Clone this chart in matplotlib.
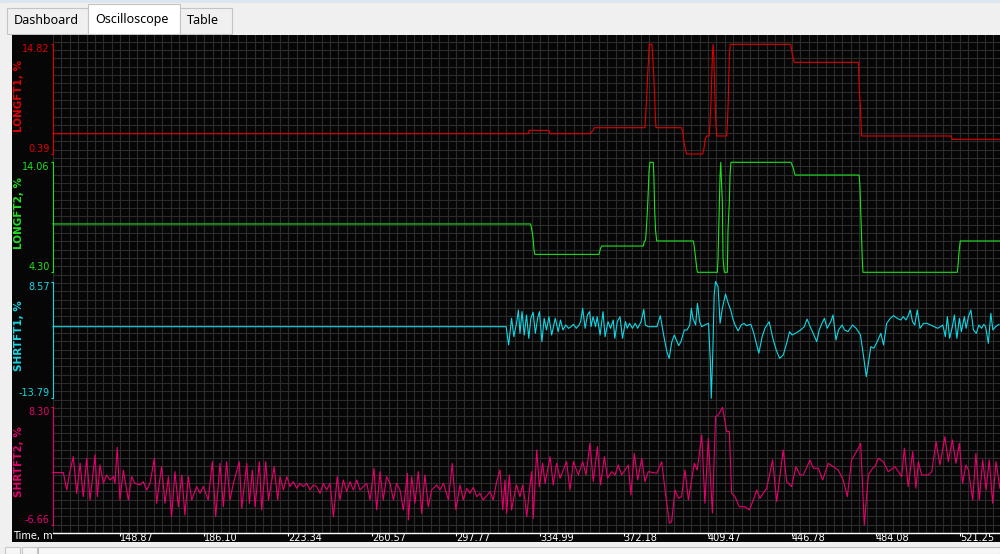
import numpy as np
import matplotlib
matplotlib.use('Agg')
import matplotlib.pyplot as plt
from matplotlib.patches import Rectangle

# ---- data (time in minutes) ----
red_t = [120.7, 330.7, 331.1, 339.8, 340.3, 358.2, 358.8, 359.4, 359.9, 382.2, 382.5, 383.0, 383.4, 383.9,
         384.1, 385.3, 385.6, 386.1, 386.5, 386.8, 387.1, 398.4, 398.9, 399.5, 400.6, 407.7, 408.3, 408.9,
         409.5, 410.6, 410.9, 411.4, 412.0, 412.3, 412.6, 413.2, 413.6, 413.9, 418.3, 418.6, 419.0, 419.5,
         419.9, 446.6, 447.0, 447.5, 448.2, 476.5, 476.9, 477.4, 477.9, 517.4, 518.0, 539.0]
red_v = [3.06, 3.06, 3.50, 3.50, 3.06, 3.06, 3.33, 3.55, 3.85, 3.85, 5.30, 7.93, 10.78, 13.41,
         14.82, 14.82, 13.41, 10.78, 7.93, 5.30, 3.85, 3.85, 3.33, 1.79, 0.39, 0.39, 1.13, 2.45,
         2.76, 2.76, 4.20, 7.27, 13.41, 14.82, 13.41, 7.27, 4.20, 2.76, 2.76, 4.20, 7.27, 13.41,
         14.82, 14.82, 14.07, 13.19, 12.45, 12.45, 8.81, 6.40, 2.76, 2.76, 2.32, 2.32]

green_t = [120.7, 331.7, 332.2, 332.6, 332.9, 333.2, 333.6, 361.9, 362.4, 362.6, 363.1, 381.5, 381.9,
           382.5, 382.8, 383.3, 383.7, 384.0, 384.4, 385.9, 386.2, 386.5, 386.9, 387.4, 403.6, 404.0,
           404.6, 405.1, 405.4, 414.2, 414.5, 414.8, 415.1, 415.4, 415.7, 415.9, 416.4, 416.7, 417.3,
           418.6, 418.9, 419.5, 419.8, 420.2, 446.7, 447.2, 447.8, 448.2, 448.6, 476.8, 477.2, 477.5,
           477.9, 478.2, 478.5, 520.2, 520.6, 520.9, 521.2, 521.5, 539.0]
green_v = [8.59, 8.59, 8.11, 7.61, 7.11, 6.28, 5.89, 5.89, 6.28, 6.43, 6.63, 6.63, 7.02,
           7.17, 8.05, 9.83, 11.60, 13.23, 14.06, 14.06, 12.49, 9.83, 8.05, 7.08, 7.08, 6.57,
           5.54, 4.65, 4.30, 4.30, 5.54, 8.05, 10.57, 12.93, 14.06, 12.93, 10.57, 5.54, 4.30,
           4.30, 8.05, 10.57, 12.93, 14.06, 14.06, 13.82, 13.52, 13.14, 12.93, 12.93, 11.90, 9.83,
           7.46, 5.54, 4.30, 4.30, 5.10, 5.98, 6.57, 7.08, 7.08]

cyan_pts = [(120.7, -0.08), (320.9, -0.08), (322.0, -3.58), (323.3, 1.52), (324.3, -1.99), (325.6, 0.88),
            (326.3, 3.11), (327.0, -1.35), (327.9, 2.80), (328.9, -1.67), (329.9, 2.16), (330.9, -2.31),
            (331.8, 1.52), (332.8, 2.67), (333.8, -1.35), (334.8, 1.52), (335.6, 2.80), (336.7, -2.95),
            (337.7, 1.52), (338.7, -0.71), (339.8, 1.84), (341.0, -1.67), (342.6, 1.52), (343.9, -1.03),
            (344.9, 1.20), (346.0, -0.71), (347.2, 0.24), (348.5, -0.39), (349.6, -0.08), (350.6, 0.37),
            (351.9, -0.39), (353.1, 0.24), (353.8, 0.88), (354.7, 3.43), (355.8, -0.39), (356.8, 2.16),
            (357.8, 2.80), (358.4, -0.08), (359.3, 1.84), (360.4, -0.08), (361.1, 1.84), (362.4, -1.67),
            (363.7, 2.80), (364.6, -1.99), (365.9, 0.88), (367.0, -0.39), (368.2, 1.20), (368.9, -2.31),
            (370.0, 0.88), (371.2, 1.84), (372.3, -2.31), (373.6, 0.88), (374.4, -0.39), (375.4, 0.56),
            (376.7, -0.39), (377.9, 0.56), (379.0, -0.39), (380.5, 0.88), (381.7, 3.24), (382.4, 0.24),
            (383.7, -0.08), (387.5, -0.08), (389.0, 2.03), (390.6, -1.99), (391.9, -4.86), (392.9, -6.14),
            (394.1, -2.95), (395.2, -1.67), (396.1, -2.63), (397.1, -3.71), (398.1, -2.95), (399.6, -0.71),
            (400.8, -0.71), (402.0, 0.24), (402.7, 3.43), (403.4, 1.52), (404.6, 0.24), (405.4, 4.39),
            (406.4, 0.88), (407.3, -0.08), (409.2, 0.37), (410.3, 0.56), (411.1, -6.77), (411.5, -13.79),
            (412.2, -4.86), (412.8, 5.99), (413.4, 8.57), (414.5, 7.58), (415.4, 0.56), (416.4, 3.43),
            (417.8, 6.18), (419.0, 4.39), (420.1, 3.11), (421.0, 1.52), (422.0, 0.24), (423.4, -0.90),
            (424.7, 0.24), (426.0, 0.56), (427.0, 0.12), (429.0, 0.37), (430.3, -1.35), (431.6, -3.58),
            (432.5, -5.18), (434.0, -1.99), (435.2, -0.39), (437.1, 0.88), (438.7, -2.31), (440.2, -4.54),
            (441.7, -6.14), (443.3, -5.50), (444.8, -3.27), (446.1, -1.03), (447.2, -1.67), (448.7, -1.35),
            (451.0, -0.71), (452.6, -0.08), (453.8, 1.39), (454.9, 0.24), (456.5, -1.35), (458.1, -2.95),
            (459.2, -0.71), (460.4, 0.56), (461.5, 1.52), (462.7, -0.39), (464.3, 0.88), (465.3, 2.16),
            (466.6, -2.63), (467.7, -0.71), (469.3, 0.24), (470.4, -0.71), (471.9, -1.03), (473.9, 0.24),
            (475.5, -0.39), (477.4, -1.67), (478.9, -6.14), (480.0, -9.65), (480.8, -7.41), (482.0, -3.90),
            (483.3, -4.22), (484.8, -2.95), (486.4, -1.35), (487.6, -3.58), (489.0, 0.56), (490.6, 1.52),
            (492.1, 2.03), (493.6, 1.52), (495.2, 1.20), (496.3, 1.84), (497.5, 1.20), (498.3, 1.84),
            (499.4, 3.11), (500.4, 0.88), (501.4, 0.24), (502.5, 3.11), (503.7, -0.39), (505.3, 0.56),
            (506.8, 0.56), (508.4, 0.24), (509.9, -0.08), (511.5, -0.39), (512.7, -0.08), (513.8, 0.24),
            (514.9, -1.99), (515.8, 1.84), (516.8, -2.31), (518.0, -0.08), (518.9, 2.16), (520.0, -2.31),
            (521.1, 1.52), (522.0, -1.03), (523.3, 1.84), (524.1, -0.39), (525.1, 1.84), (526.2, 3.11),
            (527.3, -0.71), (528.6, -1.35), (529.7, 0.24), (530.9, -0.39), (531.9, 0.37), (532.7, -0.08),
            (533.9, -3.27), (535.0, 2.48), (535.9, -0.71), (537.1, -0.08), (538.6, 0.37)]

pink_pts = [(120.7, 0.00), (125.3, 0.00), (126.8, -2.21), (127.9, -0.30), (129.7, 2.03), (131.2, -2.63),
            (132.7, 1.18), (134.1, -3.06), (135.6, 1.82), (137.1, -3.48), (139.3, 2.24), (140.3, -3.06),
            (141.5, 0.97), (143.0, -1.36), (144.4, -0.30), (145.9, -0.94), (147.4, -0.51), (148.1, -1.36),
            (149.1, 3.22), (150.3, -3.48), (151.8, 0.33), (154.0, -3.48), (155.5, -0.51), (156.9, -1.36),
            (159.2, -1.57), (160.6, -1.15), (162.1, -2.21), (163.6, -1.36), (165.5, 1.82), (166.5, -3.90),
            (168.7, 0.76), (170.2, -3.90), (171.7, -0.51), (173.1, -5.60), (174.6, 0.12), (176.1, -4.33),
            (177.6, -0.30), (179.0, -5.39), (180.5, -0.51), (182.0, -3.48), (184.2, -1.78), (185.7, -2.63),
            (187.1, -1.78), (189.3, -3.48), (191.1, 1.39), (192.6, -5.60), (194.5, 1.18), (196.0, -4.33),
            (197.4, 1.39), (198.9, -3.48), (200.4, -1.36), (203.0, 1.39), (204.1, -4.54), (206.3, 1.18),
            (207.5, -3.90), (208.8, 0.33), (210.0, -4.33), (211.9, 1.39), (212.9, -4.75), (214.7, 1.39),
            (215.9, -3.48), (218.4, 0.76), (220.0, -3.48), (221.0, -0.51), (222.5, -2.21), (224.0, -0.51),
            (225.4, -1.78), (226.9, -1.15), (228.4, -1.99), (229.8, -1.36), (231.3, -1.78), (232.8, -1.36),
            (234.3, -2.21), (235.7, -1.57), (237.2, -1.78), (238.7, -2.63), (240.1, -1.36), (241.6, -2.21),
            (243.1, -1.36), (244.6, -5.60), (246.3, -0.51), (247.5, -3.48), (249.0, -0.94), (250.5, -2.42),
            (251.9, -1.15), (253.4, -2.21), (254.9, -0.94), (256.3, -2.21), (257.8, -1.78), (259.3, -1.36),
            (260.8, -3.48), (262.5, 0.55), (263.7, -4.75), (265.2, 0.12), (266.6, -3.48), (268.1, -0.51),
            (269.6, -1.36), (271.1, -3.48), (272.5, -1.36), (274.0, -2.21), (275.5, -4.75), (277.3, -0.09),
            (277.7, -6.02), (279.2, -0.51), (280.6, -3.90), (282.1, 0.12), (283.6, -5.17), (285.0, -0.30),
            (286.5, -4.33), (288.0, -2.21), (290.2, -1.57), (291.7, -2.21), (293.2, -1.36), (295.4, -3.48),
            (297.1, 1.18), (298.7, -4.75), (300.5, -1.57), (302.0, -3.48), (303.5, -1.99), (304.9, -2.63),
            (306.4, -1.87), (307.9, -3.06), (309.3, -2.63), (310.8, -3.48), (313.8, -2.42), (315.2, -3.48),
            (316.7, -1.15), (318.2, 0.33), (319.4, -4.75), (320.4, -0.94), (321.1, -5.17), (322.3, -0.30),
            (323.3, -4.75), (324.8, -2.42), (325.5, -1.57), (327.0, -3.06), (328.2, -1.57), (329.2, -3.48),
            (330.0, -5.60), (331.1, -2.42), (332.2, 0.12), (332.9, -5.81), (334.4, 2.88), (335.6, -1.78),
            (337.0, 1.18), (338.1, -1.36), (340.3, 2.03), (341.7, -1.57), (343.2, 1.18), (344.7, -0.72),
            (347.6, 1.39), (349.1, -2.21), (350.6, 1.39), (352.8, -0.30), (354.7, 1.39), (356.2, -0.30),
            (357.9, 3.72), (359.4, -1.15), (361.2, 3.30), (362.6, -1.57), (364.3, 2.03), (365.7, -0.72),
            (367.5, 0.12), (369.0, -0.30), (370.4, 0.97), (371.9, -0.30), (374.9, 0.97), (376.0, -2.84),
            (377.5, 2.45), (379.0, -0.94), (380.8, 1.82), (382.2, -1.15), (383.7, 0.12), (387.4, -0.09),
            (389.6, 1.39), (391.1, -2.21), (393.0, -6.45), (394.0, -6.23), (395.5, -2.21), (397.0, -3.27),
            (398.4, -3.06), (399.9, 0.33), (401.4, -3.48), (404.0, 1.18), (405.3, 0.33), (407.3, 4.78),
            (408.7, -3.90), (410.2, 4.36), (412.0, -5.17), (413.4, 7.11), (414.6, 7.33), (416.5, 8.30),
            (418.3, 5.21), (419.5, 5.21), (420.5, -2.63), (422.0, -3.06), (423.9, -4.33), (426.4, -4.33),
            (428.3, -4.75), (430.1, -3.48), (431.6, -2.21), (433.0, -3.27), (436.0, -1.99), (438.6, 1.61),
            (440.4, -3.69), (443.3, 2.88), (444.8, -1.15), (447.0, -1.78), (448.9, 0.76), (450.7, -0.30),
            (452.2, -0.30), (455.1, 1.61), (456.6, 0.55), (458.8, 0.55), (460.7, -0.94), (463.2, 1.18),
            (465.4, 0.76), (467.6, 0.33), (469.8, -0.94), (471.6, -3.06), (473.5, 1.61), (476.5, 3.09),
            (477.5, 3.72), (479.1, -6.66), (480.9, -0.30), (482.8, 0.55), (483.8, 0.76), (485.3, 1.82),
            (487.5, 1.39), (489.7, 0.12), (492.7, 0.76), (495.6, -0.51), (496.8, 3.09), (498.5, -1.78),
            (500.5, 2.67), (501.9, -1.99), (503.0, 1.39), (504.4, -0.30), (507.4, -0.30), (508.9, 0.12),
            (510.8, 3.94), (512.5, 0.97), (514.7, 4.57), (516.2, 1.39), (518.0, 4.15), (519.6, 1.18),
            (521.1, 3.72), (522.5, -1.36), (524.0, 0.97), (525.1, 0.33), (527.0, -3.48), (528.4, 2.45),
            (529.9, -3.48), (531.4, 1.61), (532.9, -2.21), (534.3, 1.61), (535.8, -3.90), (537.3, 1.39),
            (539.0, -1.99)]

cyan_t, cyan_v = zip(*cyan_pts)
pink_t, pink_v = zip(*pink_pts)

channels = ['LONGFT1, %', 'LONGFT2, %', 'SHRTFT1, %', 'SHRTFT2, %']
ch_colors = ['#e00000', '#1ee01e', '#10d8e6', '#e6006e']
tick_vals = [148.87, 186.10, 223.34, 260.57, 297.77, 334.99, 372.18, 409.47, 446.78, 484.08, 521.25]
tick_text = ['148.87', '186.10', '223.34', '260.57', '297.77', '334.99', '372.18', '409.47', '446.78', '484.08', '521.25']
t_min, t_max = 120.73, 539.05
tabs = ['Dashboard', 'Oscilloscope', 'Table']

W, H = 1000.0, 554.0
def fx(px):
    return px / W
def fy(py):
    return 1 - py / H

def add_rect(x0, y0, x1, y1, **kw):
    # rectangle in pixel rows (y down), drawn behind the axes
    fig.patches.append(Rectangle((fx(x0), fy(y1)), (x1 - x0) / W, (y1 - y0) / H,
                                 transform=fig.transFigure, zorder=-10, **kw))

fig = plt.figure(figsize=(10, 5.54), dpi=100)
fig.patch.set_facecolor('#f0f0f0')

# window chrome: top band, tabs, black scope area, scrollbar
add_rect(0, 0, W, 3, fc='#dbe6f1', ec='none')
tab_box = [(7, 88, 8), (88, 180, 4), (180, 232, 8)]
for (x0, x1, top), name in zip(tab_box, tabs):
    sel = name == 'Oscilloscope'
    add_rect(x0, top, x1, 34, fc='#ffffff' if sel else '#f0f0f0', ec='#c4c4c4', lw=0.8)
    fig.text(fx(x0 + 7), fy(20), name, fontsize=9, family='Noto Sans', color='black', va='center', ha='left')

add_rect(12, 35, W, 541.5, fc='#060606', ec='none')
add_rect(5, 547, 20, 554, fc='#f7f7f7', ec='#c8c8c8', lw=0.8)
add_rect(22, 547, 37, 554, fc='#f7f7f7', ec='#c8c8c8', lw=0.8)
add_rect(38, 547, W, 554, fc='#f7f7f7', ec='#bcbcbc', lw=0.8)

# background grid + time axis
grid_step = 3.7238
ax_bg = fig.add_axes([fx(53), fy(533), (W - 53) / W, (533 - 35) / H])
ax_bg.set_facecolor('none')
ax_bg.set_xlim(t_min, t_max)
ax_bg.set_ylim(0, 498 / 8.33)
ax_bg.set_xticks(tick_vals)
ax_bg.set_xticklabels(tick_text)
ax_bg.set_xticks(np.arange(tick_vals[0] - 8 * grid_step, t_max, grid_step), minor=True)
ax_bg.set_yticks(np.arange(0, 60))
ax_bg.set_yticklabels([])
ax_bg.grid(which='both', color='#2b2b2b', lw=0.8)
ax_bg.tick_params(axis='y', length=0)
ax_bg.tick_params(axis='x', which='minor', length=0)
ax_bg.tick_params(axis='x', which='major', direction='out', length=2.5, width=0.8, color='white',
                  labelcolor='white', labelsize=7, pad=-2.2)
for lbl in ax_bg.get_xticklabels():
    lbl.set_ha('left')
for s in ['top', 'right', 'left']:
    ax_bg.spines[s].set_visible(False)
ax_bg.spines['bottom'].set_color('white')
ax_bg.spines['bottom'].set_linewidth(1.0)
ax_bg.set_axisbelow(True)
fig.text(fx(13), fy(536.5), 'Time, m', color='white', fontsize=7, va='center', ha='left')

# four channel strips (top/bottom pixel rows match each channel's min/max)
rows = [(44.3, 154.0), (162.3, 272.3), (281.5, 398.3), (407.3, 525.0)]
label_y = [95.7, 213.0, 335.5, 462.0]
series = [(red_t, red_v), (green_t, green_v), (cyan_t, cyan_v), (pink_t, pink_v)]

for (top, bot), (ts, vs), name, col, ly in zip(rows, series, channels, ch_colors, label_y):
    ax = fig.add_axes([fx(53), fy(bot), (W - 53) / W, (bot - top) / H])
    ax.set_facecolor('none')
    lo, hi = min(vs), max(vs)
    ax.plot(ts, vs, color=col, lw=0.8, clip_on=False)
    ax.set_xlim(t_min, t_max)
    ax.set_ylim(lo, hi)
    ax.set_xticks([])
    ax.set_yticks([lo, hi])
    labels = ax.set_yticklabels(['%.2f' % lo, '%.2f' % hi])
    labels[0].set_va('bottom')
    labels[1].set_va('top')
    ax.tick_params(axis='y', direction='out', length=1.6, width=0.8, color=col, labelcolor=col,
                   labelsize=7, pad=0.8)
    for s in ['top', 'right', 'bottom']:
        ax.spines[s].set_visible(False)
    ax.spines['left'].set_color(col)
    ax.spines['left'].set_linewidth(0.8)
    fig.text(fx(18.5), fy(ly), name, rotation=90, color=col, fontsize=7.5, fontweight='bold',
             ha='center', va='center')

plt.savefig('out.png', dpi=100, facecolor=fig.get_facecolor())
plt.close()
